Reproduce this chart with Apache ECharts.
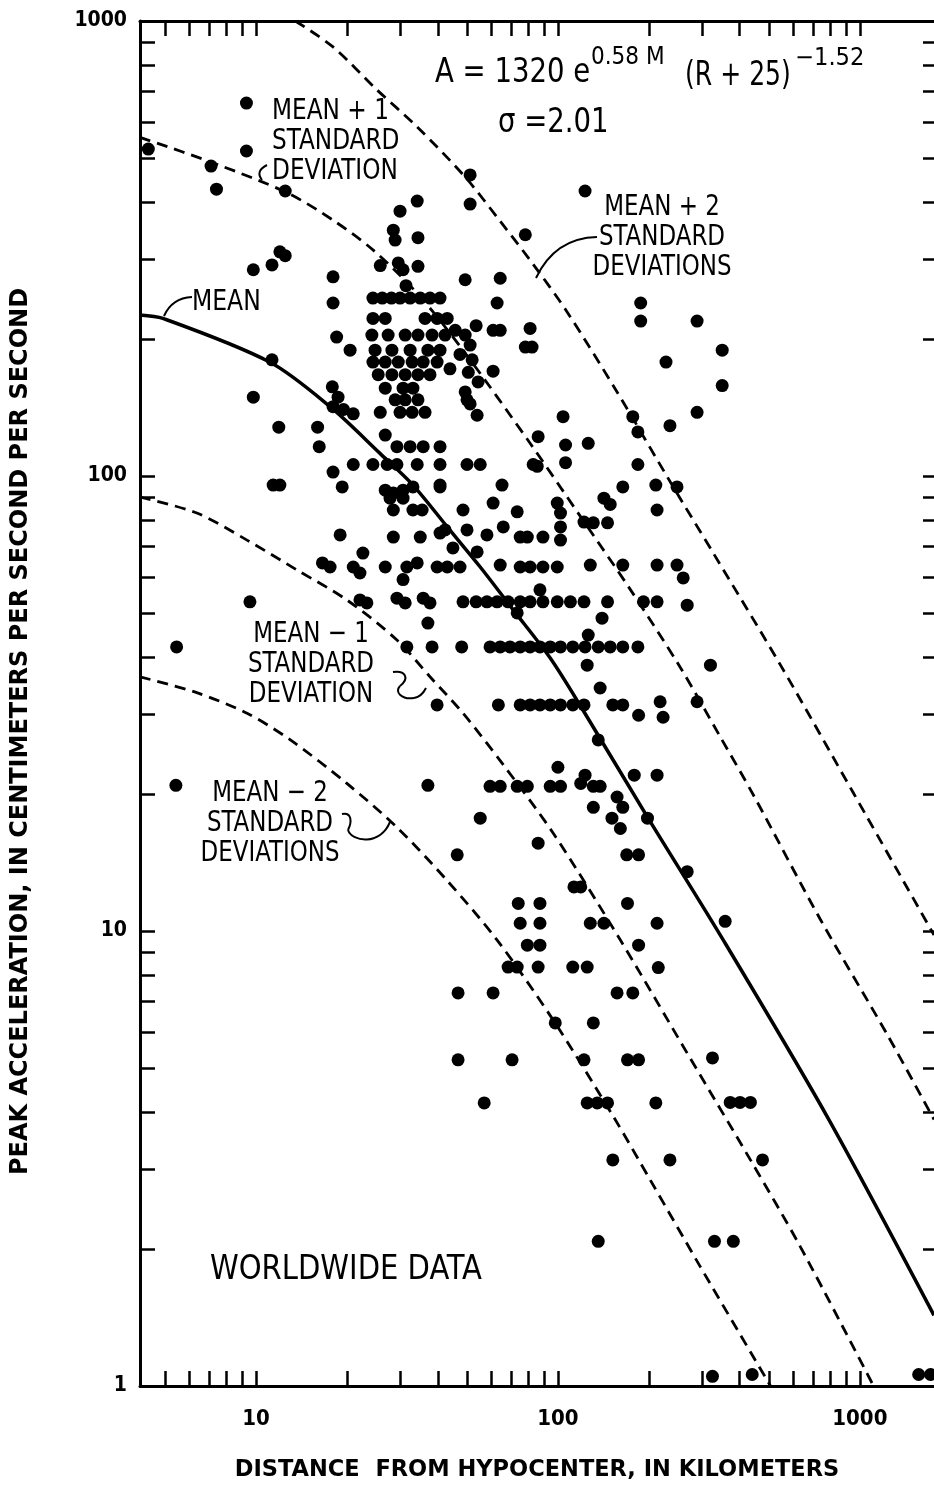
<!DOCTYPE html>
<html>
<head>
<meta charset="utf-8">
<title>Peak acceleration vs distance - worldwide data</title>
<script src="https://cdn.jsdelivr.net/npm/echarts@6.0.0/dist/echarts.min.js"></script>
<style>
  html, body { margin: 0; padding: 0; background: #fff; }
  #main { width: 934px; height: 1508px; }
</style>
</head>
<body>
<div id="main"></div>
<script>
'use strict';

// axis ticks (log decades, marks at 2..9)
var xTickValues = [5, 6, 7, 8, 9, 10, 20, 30, 40, 50, 60, 70, 80, 90, 100, 200, 300, 400, 500, 600, 700, 800, 900, 1000];
var xLabelValues = [10, 100, 1000];
var yTickValues = [1, 2, 3, 4, 5, 6, 7, 8, 9, 10, 20, 30, 40, 50, 60, 70, 80, 90, 100, 200, 300, 400, 500, 600, 700, 800, 900, 1000];
var yLabelValues = [1, 10, 100, 1000];

// curves [distance km, acceleration cm/s2]
var meanCurve = [[4.13, 226], [4.92, 222], [11.1, 178], [17.6, 142], [25.8, 112], [33.1, 95.5], [43, 77.3], [55.3, 63.1],
  [71.1, 50.8], [94.3, 39.8], [121, 30.6], [198, 17.8], [353, 9.55], [781, 3.9], [1760, 1.43]];
var plusOneCurve = [[4.13, 555], [7.2, 488], [12.7, 419], [18, 365], [24.4, 314], [34.2, 252], [48.5, 189], [80.9, 118],
  [119, 81.3], [174, 56.2], [254, 38], [345, 26.7], [444, 19.9], [740, 10.6], [1234, 5.91], [1760, 3.85]];
var plusTwoCurve = [[13.5, 1000], [18, 877], [25.2, 705], [34.2, 585], [49.3, 454], [64.4, 363], [82.8, 292], [107, 230],
  [157, 153], [241, 94.6], [327, 67.7], [546, 38.4], [952, 20.1], [1760, 9.8]];
var minusOneCurve = [[4.13, 89.9], [6.37, 82.9], [9.34, 72.3], [13.7, 62.1], [20, 53.4], [29.3, 43.6], [37.7, 36.2], [48.5, 30.1],
  [65.9, 23.2], [96.5, 16.4], [161, 9.55], [268, 5.39], [434, 3.14], [636, 2.02], [1110, 1]];
var minusTwoCurve = [[4.13, 36.2], [6.37, 33.4], [9.34, 30.1], [13, 26.3], [20, 21.1], [29.3, 16.9], [43, 12.9], [62.9, 9.55],
  [96.5, 6.37], [153, 3.9], [202, 2.84], [296, 1.83], [506, 1]];

// records with acceleration >= 100
var pointsHigh = [
  [4.4, 523], [9.3, 660], [9.3, 518], [7.1, 480], [7.4, 427], [12.5, 423], [9.8, 284], [11.3, 291], [12, 311], [12.5, 305],
  [11.3, 180], [9.8, 149], [11.9, 128], [18, 274], [18, 240], [18.5, 202], [20.5, 189], [16, 128], [16.2, 116], [17.9, 157],
  [18.7, 149], [18, 142], [21, 137], [19.5, 140], [18, 102],
  [30, 382], [34.2, 402], [28.5, 347], [28.9, 330], [34.4, 334], [29.6, 294], [30.7, 284], [34.4, 289], [31.4, 262], [25.8, 290],
  [51.2, 459], [51.2, 396], [123, 423], [78, 339], [49.3, 270], [64.4, 272], [62.9, 240], [188, 240], [188, 219], [289, 219],
  [61, 209], [64.4, 209], [80.9, 211], [78, 192], [82.1, 192], [350, 189], [228, 178], [61, 170], [350, 158], [289, 138],
  [104, 135], [177, 135], [235, 129], [184, 125], [86, 122], [106, 117], [126, 118], [106, 107], [85.4, 105], [184, 106],
  [24.4, 246], [26.2, 246], [28.1, 246], [30, 246], [32.4, 246], [35, 246], [37.7, 246], [40.7, 246],
  [24.4, 222], [26.8, 222], [36.3, 222], [39.8, 222], [43, 222],
  [24.2, 204], [27.4, 204], [31.2, 204], [34.4, 204], [38.3, 204], [42.3, 204],
  [24.8, 189], [28.2, 189], [32.4, 189], [37.1, 189], [40.7, 189],
  [24.4, 178], [26.8, 178], [29.6, 178], [32.9, 178], [35.8, 178], [39.8, 178],
  [25.4, 167], [28.2, 167], [31.2, 167], [34.4, 167], [37.7, 167],
  [26.8, 156], [30.7, 156], [33.1, 156], [28.9, 147], [31.2, 147], [34.4, 147],
  [25.8, 138], [30, 138], [32.9, 138], [36.3, 138],
  [45.7, 209], [49.3, 204], [53.6, 214], [51.2, 194], [47.4, 185], [52, 180], [50.5, 169], [54.4, 161], [49.3, 153],
  [51.2, 144], [43.9, 172], [50, 147], [54, 136],
  [26.8, 123], [29.3, 116], [32.4, 116], [35.8, 116], [40.7, 116],
  [21, 106], [24.4, 106], [27.2, 106], [29.3, 106], [34.2, 106], [40.7, 106], [50, 106], [55.3, 106], [82.8, 106]
];

// records between 20 and 100
var pointsMid = [
  [9.55, 52.9], [5.46, 42.1], [5.43, 20.9], [11.4, 95.5], [12, 95.5], [19.3, 94.6], [19, 74.2], [16.6, 64.4], [17.6, 63.1],
  [21, 63.1], [22.1, 61.2], [22.6, 67.7],
  [26.8, 93.1], [28.5, 91.8], [30.7, 93.1], [33.1, 94.6], [27.8, 89.4], [30.7, 89.4], [40.7, 94.6],
  [65.3, 95.5], [164, 94.6], [211, 95.5], [248, 94.6], [40.7, 95.5], [61, 87.2], [73.3, 83.4], [99.5, 87.2], [102, 82.9],
  [142, 89.4], [149, 86.6], [213, 84.2], [48.5, 84.2], [28.5, 84.2], [33.1, 84.2], [35.5, 84.2],
  [122, 79.2], [131, 78.9], [146, 78.9], [102, 77.3], [102, 72.3], [89.2, 73.4], [65.9, 77.3], [58.2, 74.2], [75, 73.4],
  [79.2, 73.4], [40.7, 74.9], [42.3, 76.1], [50, 76.1], [28.5, 73.4], [35, 73.4], [44.9, 69.5], [54, 68.1],
  [128, 63.7], [164, 63.7], [213, 63.7], [248, 63.7], [260, 59.7], [64.4, 63.7], [75, 63.1], [80.9, 63.1], [89.2, 63.1],
  [99.5, 63.1], [26.8, 63.1], [31.6, 63.1], [34.2, 64.4], [39.8, 63.1], [43, 63.1], [47.4, 63.1], [30.7, 59.2], [87.2, 56.2],
  [48.5, 52.9], [53.6, 52.9], [58.2, 52.9], [62.9, 52.9], [68.4, 52.9], [75, 52.9], [80.9, 52.9], [89.2, 52.9], [99.5, 52.9],
  [110, 52.9], [122, 52.9], [73.3, 50], [146, 52.9], [192, 52.9], [213, 52.9], [268, 52], [29.3, 53.9], [31.2, 52.6],
  [35.8, 53.9], [37.7, 52.6], [22.1, 53.4], [23.3, 52.6], [37.1, 47.5], [140, 48.7],
  [320, 38.4], [125, 38.4], [31.6, 42.1], [38.3, 42.1], [48, 42.1], [59.6, 42.1], [64.4, 42.1], [69.4, 42.1], [75, 42.1],
  [80.9, 42.1], [87.2, 42.1], [94.3, 42.1], [102, 42.1], [112, 42.1], [123, 42.1], [136, 42.1], [149, 42.1], [164, 42.1],
  [184, 42.1], [126, 44.7], [138, 34.2],
  [39.8, 31.4], [63.5, 31.4], [75, 31.4], [80.9, 31.4], [87.2, 31.4], [94.3, 31.4], [102, 31.4], [112, 31.4], [122, 31.4],
  [152, 31.4], [164, 31.4], [185, 29.8], [218, 31.9], [223, 29.5], [289, 31.9], [136, 26.3],
  [100, 22.9], [179, 22], [213, 22], [37.1, 20.9], [59.6, 20.8], [64.4, 20.8], [73.3, 20.8], [79.2, 20.8], [94.3, 20.8],
  [102, 20.8], [119, 21.1], [123, 22], [131, 20.8], [138, 20.8]
];

// records below 20
var pointsLow = [
  [157, 19.7], [164, 18.7], [131, 18.7], [198, 17.7], [151, 17.7], [161, 16.8], [55.3, 17.7], [86, 15.6], [46.4, 14.7],
  [169, 14.7], [185, 14.7], [268, 13.5], [113, 12.5], [119, 12.5], [73.9, 11.5], [87.2, 11.5], [170, 11.5], [75, 10.4],
  [87.2, 10.4], [128, 10.4], [142, 10.4], [213, 10.4], [358, 10.5], [79.2, 9.31], [87.2, 9.31], [185, 9.31], [68.4, 8.33],
  [73.3, 8.33], [86, 8.33], [112, 8.33], [125, 8.33], [215, 8.31], [46.7, 7.31], [61, 7.31], [157, 7.31], [177, 7.31],
  [98, 6.28], [131, 6.28], [46.7, 5.21], [70.5, 5.21], [122, 5.21], [170, 5.21], [185, 5.21], [325, 5.26], [57, 4.19],
  [125, 4.19], [135, 4.19], [146, 4.19], [211, 4.19], [372, 4.2], [401, 4.2], [434, 4.2], [152, 3.14], [235, 3.14],
  [476, 3.14], [136, 2.08], [330, 2.08], [381, 2.08], [325, 1.05], [440, 1.06], [1566, 1.06], [1714, 1.06]
];

var narrow = "'Liberation Sans Narrow', 'DejaVu Sans Condensed', sans-serif";
var titleFont = "'DejaVu Sans', sans-serif";

var myChart = echarts.init(document.getElementById('main'));

function curve(data, dashed, width) {
  return {
    type: 'line',
    data: data,
    smooth: 0.3,
    showSymbol: false,
    silent: true,
    lineStyle: {
      color: '#000',
      width: width,
      type: dashed ? [11, 7] : 'solid'
    },
    z: 3
  };
}

function dots(data) {
  return {
    type: 'scatter',
    data: data,
    symbol: 'circle',
    symbolSize: 13,
    silent: true,
    itemStyle: { color: '#000', opacity: 1 },
    z: 4
  };
}

function xAxisBase(pos) {
  return {
    type: 'log',
    logBase: 10,
    min: 4.13,
    max: 1760,
    position: pos,
    axisLine: { show: true, lineStyle: { color: '#000', width: 3 } },
    axisTick: { show: true, inside: true, length: 15, customValues: xTickValues, lineStyle: { color: '#000', width: 2.5 } },
    splitLine: { show: false },
    minorTick: { show: false }
  };
}

function yAxisBase(pos) {
  return {
    type: 'log',
    logBase: 10,
    min: 1,
    max: 1000,
    position: pos,
    axisTick: { show: true, inside: true, length: pos === 'left' ? 15 : 11, customValues: yTickValues, lineStyle: { color: '#000', width: 2.5 } },
    splitLine: { show: false },
    minorTick: { show: false }
  };
}

var xBottom = xAxisBase('bottom');
xBottom.axisLabel = {
  customValues: xLabelValues, margin: 22, color: '#000', fontSize: 22, fontWeight: 'bold', fontFamily: narrow,
  formatter: function (v) { return String(v); }
};
xBottom.name = 'DISTANCE  FROM HYPOCENTER, IN KILOMETERS';
xBottom.nameLocation = 'middle';
xBottom.nameGap = 73;
xBottom.nameTextStyle = { color: '#000', fontSize: 22.5, fontWeight: 'bold', fontFamily: titleFont };

var xTop = xAxisBase('top');
xTop.axisLabel = { show: false };

var yLeft = yAxisBase('left');
yLeft.axisLine = { show: true, lineStyle: { color: '#000', width: 3 } };
yLeft.axisLabel = {
  customValues: yLabelValues, margin: 13, color: '#000', fontSize: 21, fontWeight: 'bold', fontFamily: narrow,
  formatter: function (v) { return String(v); }
};
yLeft.name = 'PEAK ACCELERATION, IN CENTIMETERS PER SECOND PER SECOND';
yLeft.nameLocation = 'middle';
yLeft.nameGap = 107;
yLeft.nameTextStyle = { color: '#000', fontSize: 24, fontWeight: 'bold', fontFamily: titleFont, padding: [0, 56, 0, 0] };

var yRight = yAxisBase('right');
yRight.axisLine = { show: false };
yRight.axisLabel = { show: false };

function label(x, y, text, size, squeeze, align, vAlign) {
  return {
    type: 'text',
    x: x,
    y: y,
    scaleX: squeeze,
    silent: true,
    z: 10,
    style: {
      text: text,
      fill: '#000',
      fontSize: size,
      fontFamily: narrow,
      lineHeight: 30,
      align: align || 'left',
      verticalAlign: vAlign || 'middle'
    }
  };
}

// curved pointer from a label to its line: [x1, y1, cpx1, cpy1, (cpx2, cpy2,) x2, y2]
function leader(p) {
  var shape = { x1: p[0], y1: p[1], cpx1: p[2], cpy1: p[3], x2: p[p.length - 2], y2: p[p.length - 1] };
  if (p.length === 8) {
    shape.cpx2 = p[4];
    shape.cpy2 = p[5];
  }
  return {
    type: 'bezierCurve',
    silent: true,
    z: 10,
    shape: shape,
    style: { stroke: '#000', lineWidth: 2, fill: null }
  };
}

var option = {
  animation: false,
  backgroundColor: '#fff',
  grid: { left: 140, right: 0, top: 21, bottom: 122, containLabel: false },
  xAxis: [xBottom, xTop],
  yAxis: [yLeft, yRight],
  series: [
    curve(plusTwoCurve, true, 2.8),
    curve(plusOneCurve, true, 2.8),
    curve(meanCurve, false, 3.5),
    curve(minusOneCurve, true, 2.8),
    curve(minusTwoCurve, true, 2.8),
    dots(pointsHigh),
    dots(pointsMid),
    dots(pointsLow)
  ],
  graphic: [
    label(435, 73, 'A = 1320 e', 34, 0.9),
    label(591, 58, '0.58 M', 24, 1),
    label(685, 76, '(R + 25)', 34, 0.82),
    label(795, 59, '\u22121.52', 24, 1.05),
    label(498, 123, '\u03c3 =2.01', 34, 0.9),
    label(272, 96, 'MEAN + 1\nSTANDARD\nDEVIATION', 29, 0.89, 'left', 'top'),
    label(192, 302, 'MEAN', 29, 0.9),
    label(662, 192, 'MEAN + 2\nSTANDARD\nDEVIATIONS', 29, 0.88, 'center', 'top'),
    label(311, 619, 'MEAN \u2212 1\nSTANDARD\nDEVIATION', 29, 0.88, 'center', 'top'),
    label(270, 778, 'MEAN \u2212 2\nSTANDARD\nDEVIATIONS', 29, 0.88, 'center', 'top'),
    label(210, 1270, 'WORLDWIDE DATA', 34, 0.95),
    leader([267, 165, 255, 171, 262, 180]),
    leader([192, 297, 172, 298, 164, 316]),
    leader([597, 237, 555, 238, 536, 278]),
    leader([393, 672, 405, 670, 410, 678, 400, 686]),
    leader([400, 686, 394, 692, 402, 700, 414, 698]),
    leader([414, 698, 420, 697, 424, 692, 426, 688]),
    leader([342, 814, 352, 812, 352, 822, 348, 830]),
    leader([348, 830, 352, 842, 380, 846, 390, 822])
  ]
};

myChart.setOption(option);
</script>
</body>
</html>
